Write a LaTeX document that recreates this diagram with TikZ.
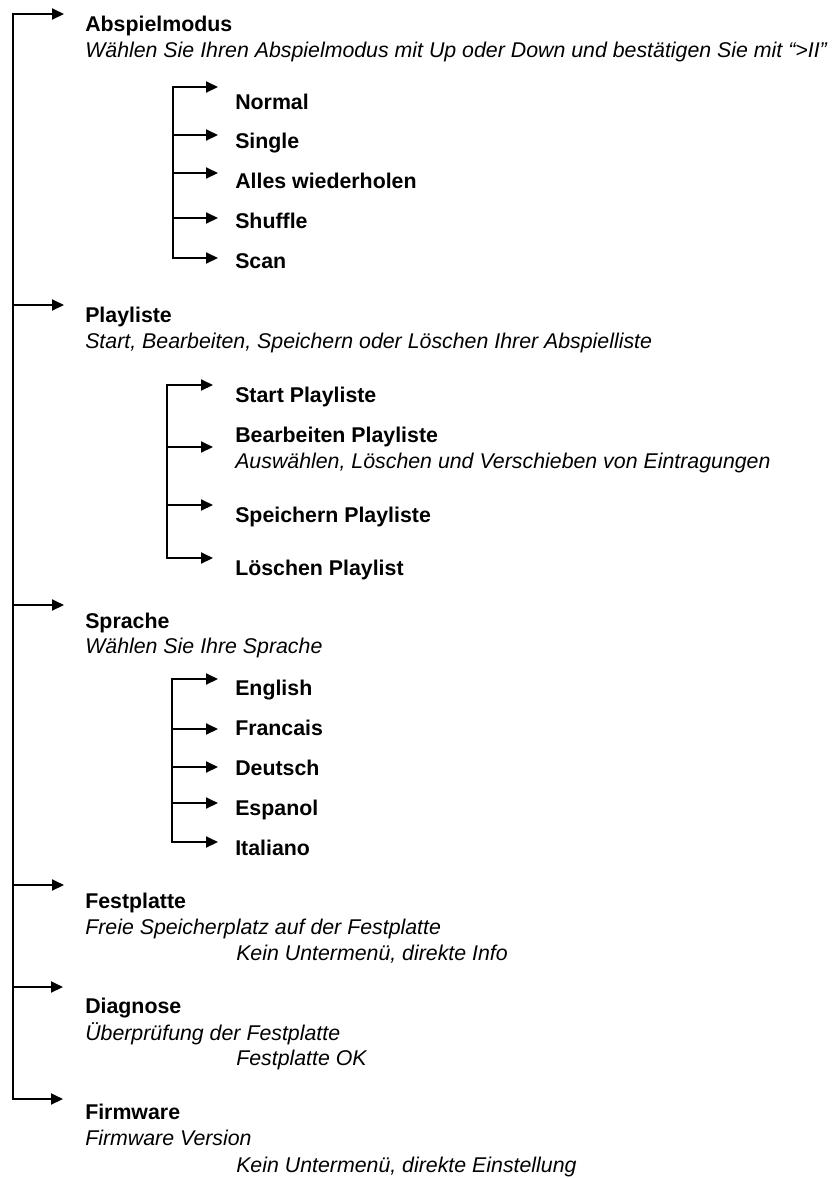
\documentclass[tikz,border=0pt]{standalone}
\usepackage{fontspec}
\setmainfont{Liberation Sans}
\usetikzlibrary{arrows.meta}
\begin{document}
\begin{tikzpicture}[x=0.75pt,y=-0.75pt,
  trunk/.style={line width=1.5pt, line cap=rect},
  arr/.style={line width=1.5pt, -{Triangle[length=9pt,width=8.25pt]}},
  head/.style={anchor=base west, inner sep=0pt, font=\fontsize{16}{19}\selectfont\bfseries},
  desc/.style={anchor=base west, inner sep=0pt, font=\fontsize{16}{19}\selectfont\itshape}]
\useasboundingbox (0,0) rectangle (838,1178);

% ---------- main level ----------
\node[head] (abs) at (85,31) {Abspielmodus};
\node[desc] (absd) at (85,57) {Wählen Sie Ihren Abspielmodus mit Up oder Down und bestätigen Sie mit “>II”};
\node[head] (pl) at (85,322) {Playliste};
\node[desc] (pld) at (85,348) {Start, Bearbeiten, Speichern oder Löschen Ihrer Abspielliste};
\node[head] (sp) at (85,628) {Sprache};
\node[desc] (spd) at (85,653) {Wählen Sie Ihre Sprache};
\node[head] (fp) at (85,908) {Festplatte};
\node[desc] (fpd) at (85,934) {Freie Speicherplatz auf der Festplatte};
\node[desc] (fpi) at (236,960) {Kein Untermenü, direkte Info};
\node[head] (dg) at (85,1013) {Diagnose};
\node[desc] (dgd) at (85,1040) {Überprüfung der Festplatte};
\node[desc] (dgi) at (236,1065) {Festplatte OK};
\node[head] (fw) at (85,1119) {Firmware};
\node[desc] (fwd) at (85,1145) {Firmware Version};
\node[desc] (fwi) at (236,1172) {Kein Untermenü, direkte Einstellung};

\coordinate (T1) at (13,14);   \coordinate (A1) at (64,14);
\coordinate (T2) at (13,305);  \coordinate (A2) at (64,305);
\coordinate (T3) at (13,605);  \coordinate (A3) at (64,605);
\coordinate (T4) at (13,885);  \coordinate (A4) at (64,885);
\coordinate (T5) at (13,987);  \coordinate (A5) at (63,987);
\coordinate (T6) at (13,1099); \coordinate (A6) at (63,1099);
\draw[trunk] (T1) -- (T6);
\foreach \i in {1,...,6} \draw[arr] (T\i) -- (A\i);

% ---------- Abspielmodus sub menu ----------
\node[head] (n1) at (235,109) {Normal};
\node[head] (n2) at (235,148) {Single};
\node[head] (n3) at (235,188) {Alles wiederholen};
\node[head] (n4) at (235,228) {Shuffle};
\node[head] (n5) at (235,268) {Scan};
\coordinate (nt1) at (173,87);  \coordinate (na1) at (218,87);
\coordinate (nt2) at (173,135); \coordinate (na2) at (218,135);
\coordinate (nt3) at (173,173); \coordinate (na3) at (218,173);
\coordinate (nt4) at (173,218); \coordinate (na4) at (218,218);
\coordinate (nt5) at (173,258); \coordinate (na5) at (218,258);
\draw[trunk] (nt1) -- (nt5);
\foreach \i in {1,...,5} \draw[arr] (nt\i) -- (na\i);

% ---------- Playliste sub menu ----------
\node[head] (p1) at (235,402) {Start Playliste};
\node[head] (p2) at (235,442) {Bearbeiten Playliste};
\node[desc] (p2d) at (235,468) {Auswählen, Löschen und Verschieben von Eintragungen};
\node[head] (p3) at (235,522) {Speichern Playliste};
\node[head] (p4) at (235,575) {Löschen Playlist};
\coordinate (pt1) at (167,385); \coordinate (pa1) at (213,385);
\coordinate (pt2) at (167,447); \coordinate (pa2) at (213,447);
\coordinate (pt3) at (167,505); \coordinate (pa3) at (213,505);
\coordinate (pt4) at (167,558); \coordinate (pa4) at (213,558);
\draw[trunk] (pt1) -- (pt4);
\foreach \i in {1,...,4} \draw[arr] (pt\i) -- (pa\i);

% ---------- Sprache sub menu ----------
\node[head] (s1) at (235,695) {English};
\node[head] (s2) at (235,735) {Francais};
\node[head] (s3) at (235,775) {Deutsch};
\node[head] (s4) at (235,815) {Espanol};
\node[head] (s5) at (235,855) {Italiano};
\coordinate (st1) at (172,679); \coordinate (sa1) at (218,679);
\coordinate (st2) at (172,729); \coordinate (sa2) at (218,729);
\coordinate (st3) at (172,767); \coordinate (sa3) at (218,767);
\coordinate (st4) at (172,803); \coordinate (sa4) at (218,803);
\coordinate (st5) at (172,842); \coordinate (sa5) at (218,842);
\draw[trunk] (st1) -- (st5);
\foreach \i in {1,...,5} \draw[arr] (st\i) -- (sa\i);
\end{tikzpicture}
\end{document}
